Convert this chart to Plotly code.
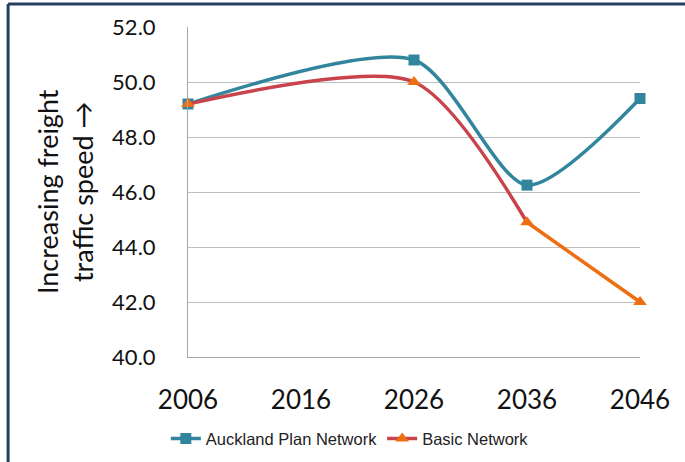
import plotly.graph_objects as go

# Forecast years and average freight speeds per network scenario
years = [2006, 2026, 2036, 2046]
auckland_plan = [49.2, 50.8, 46.25, 49.4]
basic_network = [49.2, 50.0, 44.9, 42.0]

y_ticks = [40, 42, 44, 46, 48, 50, 52]
x_ticks = [2006, 2016, 2026, 2036, 2046]

TEAL = "#31859C"
RED = "#C8434B"
ORANGE = "#EE6F12"

fig = go.Figure()

fig.add_trace(go.Scatter(
    x=years, y=auckland_plan, name="Auckland Plan Network",
    mode="lines+markers",
    line=dict(color=TEAL, width=3.5, shape="spline", smoothing=0.75),
    marker=dict(symbol="square", size=11, color=TEAL),
    cliponaxis=False,
))

# basic network: red through 2036, orange for the final decade
fig.add_trace(go.Scatter(
    x=years[2:], y=basic_network[2:], showlegend=False, mode="lines",
    line=dict(color=ORANGE, width=3.5),
    hoverinfo="skip", cliponaxis=False,
))
fig.add_trace(go.Scatter(
    x=years[:3], y=basic_network[:3], name="Basic Network",
    mode="lines+markers",
    line=dict(color=RED, width=3.5, shape="spline", smoothing=0.75),
    marker=dict(symbol="triangle-up", size=12, color=ORANGE),
    cliponaxis=False,
))
fig.add_trace(go.Scatter(
    x=years[3:], y=basic_network[3:], showlegend=False, mode="markers",
    marker=dict(symbol="triangle-up", size=12, color=ORANGE),
    cliponaxis=False,
))

fig.update_layout(
    template="none",
    width=685, height=462,
    margin=dict(l=188, r=45, t=27, b=105, autoexpand=False),
    paper_bgcolor="white", plot_bgcolor="white",
    font=dict(family="Lato, Noto Sans, sans-serif", color="#1a1a1a"),
    showlegend=True,
    legend=dict(
        orientation="h", x=0.358, xanchor="center", y=-0.248, yanchor="middle",
        font=dict(family="Liberation Sans Narrow, Liberation Sans, Arial", size=16.5, color="#222222"),
        itemwidth=30, tracegroupgap=0, bgcolor="rgba(0,0,0,0)",
    ),
    xaxis=dict(
        range=[2006, 2046], tickvals=x_ticks,
        showgrid=False, gridcolor="white", gridwidth=0.001,
        zeroline=False, automargin=False,
        showline=True, linecolor="#a6a6a6", linewidth=1,
        ticks="outside", ticklen=20, tickcolor="rgba(0,0,0,0)",
        tickfont=dict(size=26, color="#111111"),
    ),
    yaxis=dict(
        range=[40, 52], tickvals=y_ticks, tickformat=".1f",
        showgrid=True, gridcolor="#bfbfbf", gridwidth=1,
        zeroline=False, automargin=False,
        showline=True, linecolor="#a6a6a6", linewidth=1,
        ticks="outside", ticklen=27, tickcolor="rgba(0,0,0,0)",
        tickfont=dict(size=22, color="#111111"),
    ),
    annotations=[dict(
        text="Increasing freight<br>traffic speed \u2192",
        xref="paper", yref="paper", x=-0.272, y=0.5,
        xanchor="center", yanchor="middle", textangle=-90,
        showarrow=False, font=dict(size=27, color="#111111"),
    )],
    shapes=[
        dict(type="line", xref="paper", yref="paper",
             x0=-0.398, x1=1.2, y0=1.0697, y1=1.0697,
             line=dict(color="#243F60", width=3)),
        dict(type="line", xref="paper", yref="paper",
             x0=-0.398, x1=-0.398, y0=1.0697, y1=-0.4,
             line=dict(color="#243F60", width=3)),
    ],
)
fig.update_xaxes(showgrid=False)

fig.write_html("out.html")
